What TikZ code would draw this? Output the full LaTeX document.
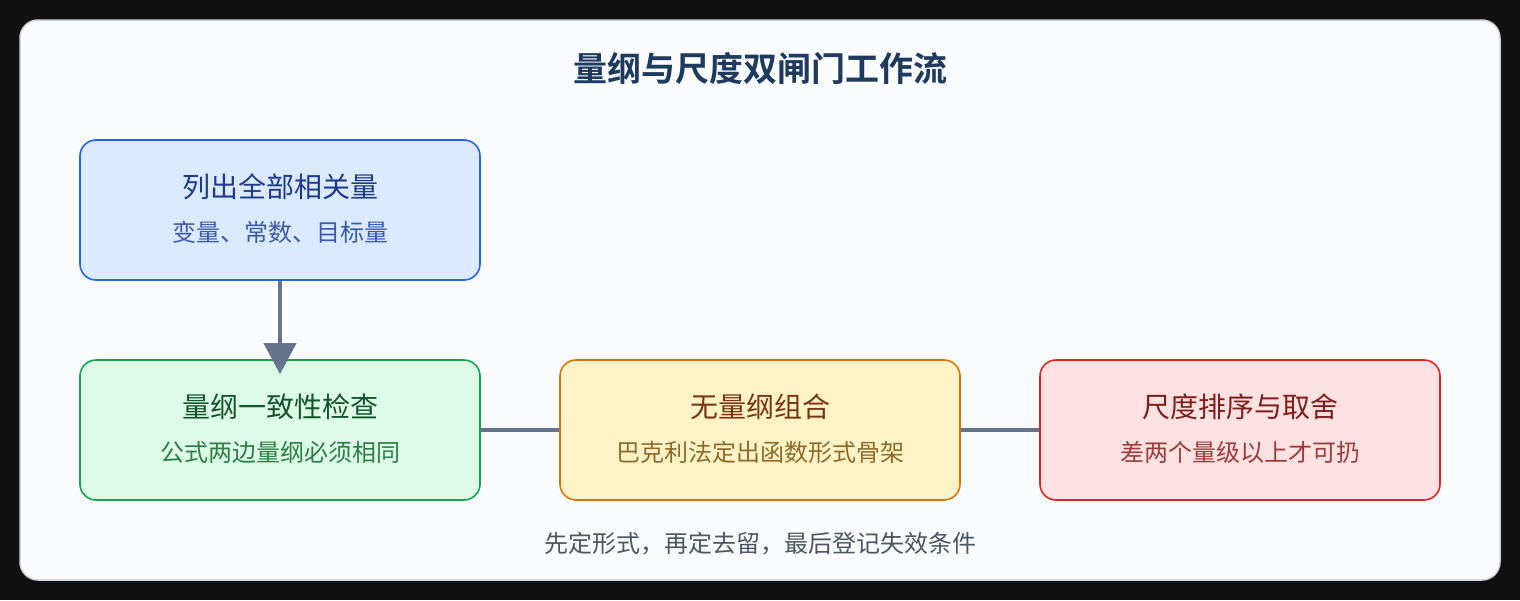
\documentclass[tikz,border=0pt]{standalone}
\usepackage{fontspec}
\setmainfont{Noto Sans CJK SC}
\newfontfamily\cjkb{Noto Sans CJK SC Bold}
\usetikzlibrary{arrows.meta}
\definecolor{bgdark}{HTML}{111111}
\definecolor{panelfill}{HTML}{FBFCFE}
\definecolor{paneldraw}{HTML}{CBD5E1}
\definecolor{titlec}{HTML}{1E3A5F}
\definecolor{linkc}{HTML}{64748B}
\definecolor{footc}{HTML}{4B5563}
\definecolor{bluef}{HTML}{DBEAFE}\definecolor{blued}{HTML}{2563EB}\definecolor{bluet}{HTML}{1E3A8A}\definecolor{blues}{HTML}{3B5BA9}
\definecolor{greenf}{HTML}{DCFCE7}\definecolor{greend}{HTML}{16A34A}\definecolor{greent}{HTML}{14532D}\definecolor{greens}{HTML}{2E7D46}
\definecolor{yelf}{HTML}{FEF3C7}\definecolor{yeld}{HTML}{D97706}\definecolor{yelt}{HTML}{78350F}\definecolor{yels}{HTML}{8F6A2A}
\definecolor{redf}{HTML}{FEE2E2}\definecolor{redd}{HTML}{DC2626}\definecolor{redt}{HTML}{7F1D1D}\definecolor{reds}{HTML}{9B3B3B}
\tikzset{
  stagebox/.style={draw, line width=1.6pt, rounded corners=16pt, minimum width=400pt, minimum height=140pt, inner sep=0pt},
  boxtitle/.style={font=\fontsize{28}{32}\selectfont, inner sep=0pt},
  boxsub/.style={font=\fontsize{24}{28}\selectfont, inner sep=0pt},
  link/.style={draw=linkc, line width=4pt},
}
\begin{document}
\begin{tikzpicture}[x=1pt,y=-1pt]
\fill[bgdark] (0,0) rectangle (1520,600);
\useasboundingbox (0,0) rectangle (1520,600);
\draw[fill=panelfill, draw=paneldraw, line width=1.5pt, rounded corners=18pt] (20,20) rectangle (1500,580);
\node[font=\cjkb\fontsize{34}{38}\selectfont, text=titlec, inner sep=0pt] (title) at (760,69) {量纲与尺度双闸门工作流};

\node[stagebox, fill=bluef, draw=blued] (b1) at (280,210) {};
\node[boxtitle, text=bluet] (b1t) at (280,187) {列出全部相关量};
\node[boxsub, text=blues] (b1s) at (280,232) {变量、常数、目标量};

\node[stagebox, fill=greenf, draw=greend] (b2) at (280,430) {};
\node[boxtitle, text=greent] (b2t) at (280,407) {量纲一致性检查};
\node[boxsub, text=greens] (b2s) at (280,452) {公式两边量纲必须相同};

\node[stagebox, fill=yelf, draw=yeld] (b3) at (760,430) {};
\node[boxtitle, text=yelt] (b3t) at (760,407) {无量纲组合};
\node[boxsub, text=yels] (b3s) at (760,452) {巴克利法定出函数形式骨架};

\node[stagebox, fill=redf, draw=redd] (b4) at (1240,430) {};
\node[boxtitle, text=redt] (b4t) at (1240,407) {尺度排序与取舍};
\node[boxsub, text=reds] (b4s) at (1240,452) {差两个量级以上才可扔};

\coordinate (tip) at ([yshift=-15pt]b2.north);
\draw[link, -{Triangle[length=31pt,width=32pt]}] (b1.south) -- (tip);
\draw[link] (b2.east) -- (b3.west);
\draw[link] (b3.east) -- (b4.west);

\node[font=\fontsize{24}{28}\selectfont, text=footc, inner sep=0pt] (foot) at (760,544) {先定形式，再定去留，最后登记失效条件};
\end{tikzpicture}
\end{document}
